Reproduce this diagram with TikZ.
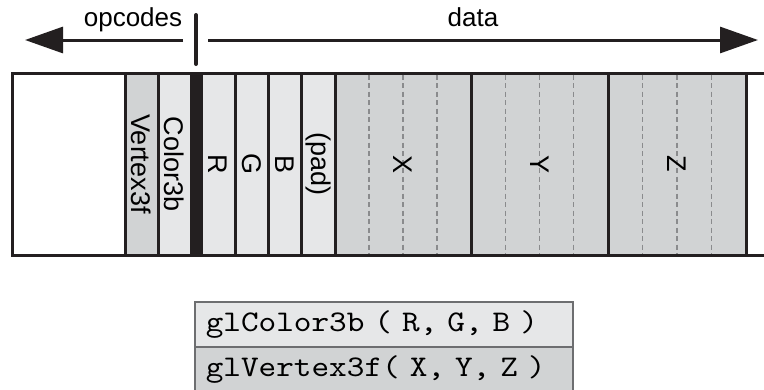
\documentclass[tikz,border=0pt]{standalone}
\usepackage{fontspec}
\setmainfont{Liberation Sans}
\newfontfamily\callfont[FakeStretch=1.12]{lmmono10-regular.otf}
\usetikzlibrary{arrows.meta,calc}

\definecolor{strokegray}{HTML}{231F20}
\definecolor{lightcell}{HTML}{E6E7E8}
\definecolor{darkcell}{HTML}{D1D3D4}
\definecolor{dashgray}{HTML}{8A8B8D}
\definecolor{rowline}{HTML}{6D6E70}

\begin{document}
\begin{tikzpicture}[x=1pt,y=-1pt,
	cell/.style={draw=strokegray, line width=3pt, inner sep=0pt, outer sep=0pt, minimum height=182pt, anchor=west},
	bytesep/.style={draw=dashgray, line width=1.2pt, dash pattern=on 5pt off 3.5pt, shorten <=1.5pt, shorten >=1.5pt},
	byte/.style={font=\fontsize{27}{30}\selectfont, rotate=-90, inner sep=0pt},
	tag/.style={font=\fontsize{26}{30}\selectfont, anchor=base, inner sep=0pt},
	span/.style={draw=strokegray, line width=3pt, -{Triangle[length=38pt,width=26pt]}},
	call/.style={draw=rowline, line width=1.5pt, anchor=north west, minimum width=378pt, minimum height=45pt,
		text width=356pt, inner xsep=11pt, align=left, font=\callfont\fontsize{30}{34}\selectfont}]
	\useasboundingbox (0,0) rectangle (764,389);

	\foreach \x/\w/\c/\n in {12/113/white/blank, 125/33/darkcell/vtx, 158/33/lightcell/col,
		201/34/lightcell/r, 235/33/lightcell/g, 268/33/lightcell/b, 301/34/lightcell/pad,
		335/136/darkcell/xcell, 471/137/darkcell/ycell, 608/138/darkcell/zcell}
		\node[cell, fill=\c, minimum width=\w] (\n) at (\x,164) {};
	\node[cell, fill=strokegray, minimum width=10pt] (bar) at (191,164) {};

	\foreach \n in {xcell,ycell,zcell}
		\foreach \f in {0.25,0.5,0.75}
			\draw[bytesep] ($(\n.north west)!\f!(\n.north east)$) -- ($(\n.south west)!\f!(\n.south east)$);

	\foreach \n/\t in {vtx/Vertex3f, col/Color3b, r/R, g/G, b/B, pad/{(pad)}, xcell/X, ycell/Y, zcell/Z}
		\node[byte] (\n-label) at (\n) {\t};

	\coordinate (topedge) at (766,73);
	\coordinate (bottomedge) at (766,255);
	\draw[strokegray, line width=3pt] (zcell.north east) -- (topedge);
	\draw[strokegray, line width=3pt] (zcell.south east) -- (bottomedge);

	\coordinate (split) at (196,15);
	\coordinate (splitend) at (196,64);
	\draw[strokegray, line width=4pt, line cap=round] (split) -- (splitend);
	\coordinate (opstart) at (183,40);
	\coordinate (opend) at (25,40);
	\coordinate (datastart) at (208,40);
	\coordinate (dataend) at (758,40);
	\draw[span] (opstart) -- (opend);
	\draw[span] (datastart) -- (dataend);
	\node[tag] (opcodes) at (133,26) {opcodes};
	\node[tag] (data) at (473,26) {data};

	\node[call, fill=lightcell] (colorcall) at (194,301) {\mbox{glColor3b ( R, G, B )}};
	\node[call, fill=darkcell, minimum height=46pt] (vertexcall) at (194,346) {\mbox{glVertex3f( X, Y, Z )}};
\end{tikzpicture}
\end{document}
